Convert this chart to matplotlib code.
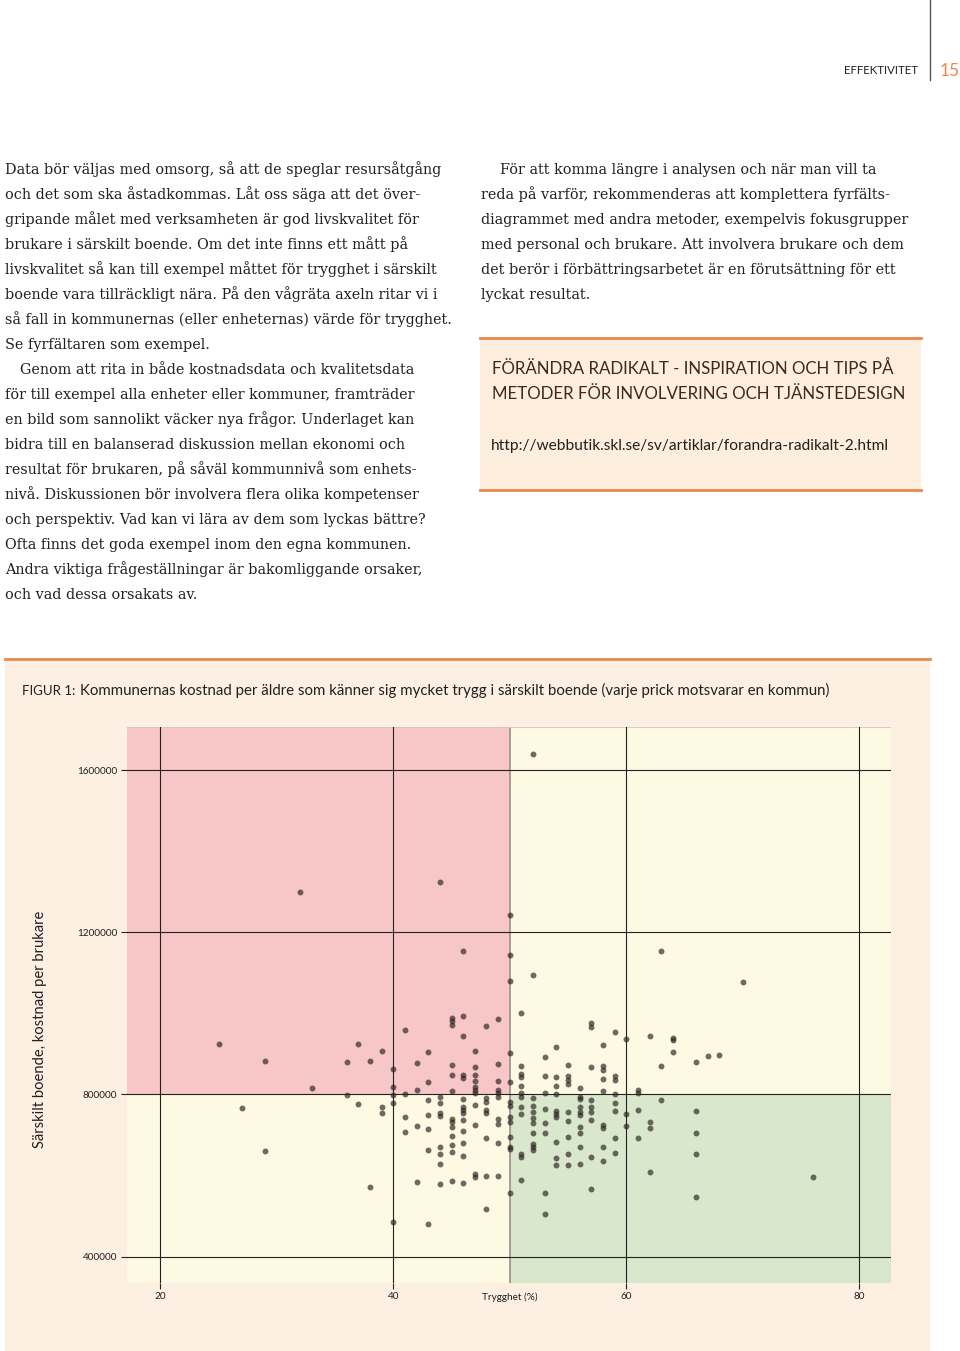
import matplotlib
matplotlib.use('Agg')
import matplotlib.pyplot as plt
from matplotlib.patches import Rectangle
from matplotlib.lines import Line2D

W, H = 960, 1351

# page texts
left_lines = [
    "Data bör väljas med omsorg, så att de speglar resursåtgång",
    "och det som ska åstadkommas. Låt oss säga att det över-",
    "gripande målet med verksamheten är god livskvalitet för",
    "brukare i särskilt boende. Om det inte finns ett mått på",
    "livskvalitet så kan till exempel måttet för trygghet i särskilt",
    "boende vara tillräckligt nära. På den vågräta axeln ritar vi i",
    "så fall in kommunernas (eller enheternas) värde för trygghet.",
    "Se fyrfältaren som exempel.",
    "Genom att rita in både kostnadsdata och kvalitetsdata",
    "för till exempel alla enheter eller kommuner, framträder",
    "en bild som sannolikt väcker nya frågor. Underlaget kan",
    "bidra till en balanserad diskussion mellan ekonomi och",
    "resultat för brukaren, på såväl kommunnivå som enhets-",
    "nivå. Diskussionen bör involvera flera olika kompetenser",
    "och perspektiv. Vad kan vi lära av dem som lyckas bättre?",
    "Ofta finns det goda exempel inom den egna kommunen.",
    "Andra viktiga frågeställningar är bakomliggande orsaker,",
    "och vad dessa orsakats av.",
]
right_lines = [
    "För att komma längre i analysen och när man vill ta",
    "reda på varför, rekommenderas att komplettera fyrfälts-",
    "diagrammet med andra metoder, exempelvis fokusgrupper",
    "med personal och brukare. Att involvera brukare och dem",
    "det berör i förbättringsarbetet är en förutsättning för ett",
    "lyckat resultat.",
]
box_title = ["FÖRÄNDRA RADIKALT - INSPIRATION OCH TIPS PÅ",
             "METODER FÖR INVOLVERING OCH TJÄNSTEDESIGN"]
box_url = "http://webbutik.skl.se/sv/artiklar/forandra-radikalt-2.html"
caption = "Kommunernas kostnad per äldre som känner sig mycket trygg i särskilt boende (varje prick motsvarar en kommun)"

# chart data: trygghet (%) and kostnad per brukare, one dot per kommun
trygghet = (
    [25, 27, 29, 29, 32, 33, 36, 36, 37, 37, 38, 38, 39, 39, 39]
    + [40] * 5 + [41] * 4 + [42] * 4 + [43] * 7 + [44] * 9 + [45] * 13
    + [46] * 14 + [47] * 11 + [48] * 8 + [49] * 10 + [50] * 13 + [51] * 12
    + [52] * 11 + [53] * 8 + [54] * 10 + [55] * 9 + [56] * 10 + [57] * 9
    + [58] * 9 + [59] * 8 + [60] * 3 + [61] * 4 + [62] * 4 + [63] * 3
    + [64] * 3 + [66] * 5 + [67, 68, 70, 76]
)
kostnad = [
    924900, 765500, 882200, 661100, 1298400, 815600, 879700, 797500,
    924100, 777000, 882200, 572300, 907700, 769600, 754800,
    # 40
    861700, 818900, 798400, 777800, 485200,
    # 41
    957800, 800000, 743300, 706300,
    # 42
    878100, 810700, 721900, 584600,
    # 43
    903600, 831200, 786000, 749000, 715300, 661900, 481100,
    # 44
    1324600, 794200, 779400, 754800, 746600, 670900, 652000, 628200, 578900,
    # 45
    987400, 980800, 971000, 871500, 847700, 809000, 738400, 732600, 720300,
    697200, 675100, 657800, 585500,
    # 46
    1154400, 994000, 943900, 847700, 841100, 787700, 767900, 761400, 754800,
    736700, 710400, 679200, 647900, 581300,
    # 47
    907700, 868200, 847700, 832900, 817300, 810700, 802500, 773700, 723600,
    603500, 597000,
    # 48
    968500, 790100, 781900, 761400, 754800, 693100, 598600, 517200,
    # 49
    985000, 874000, 833700, 810700, 804100, 794200, 739200, 726800, 680800,
    599400,
    # 50
    1242400, 1143800, 1080400, 901100, 829600, 781900, 771200, 744900, 732600,
    695600, 670900, 665200, 557500,
    # 51
    1000800, 869900, 850100, 843600, 820600, 802500, 794200, 769600, 750700,
    652000, 646300, 588700,
    # 52
    1638700, 1093700, 790100, 771200, 757300, 740800, 730200, 705500, 677500,
    670900, 662700,
    # 53
    892900, 845200, 802500, 763800, 730200, 703800, 557500, 506500,
    # 54
    915900, 843600, 821400, 800800, 758900, 751500, 744900, 683300, 642200,
    626600,
    # 55
    872300, 845200, 835300, 824700, 757300, 734200, 695600, 652000, 626600,
    # 56
    814800, 794200, 787700, 767900, 757300, 749000, 718600, 705500, 670900,
    629800,
    # 57
    976700, 966900, 866600, 786000, 767900, 757300, 736700, 646300, 565700,
    # 58
    921700, 869900, 860000, 837000, 808200, 724400, 716200, 670900, 636400,
    # 59
    953700, 845200, 835300, 800000, 779400, 758900, 693900, 654500,
    # 60 - 64
    935600, 751500, 722700,
    810700, 802500, 761400, 693100,
    943900, 732600, 716200, 607700,
    1154400, 869900, 786000,
    938100, 934000, 905200,
    # 66 and up
    880600, 758900, 705500, 652900, 546000,
    895400, 897000, 1078000, 597000,
]

xticks = [20, 40, 60, 80]
yticks = [400000, 800000, 1200000, 1600000]
x_split, y_split = 50, 800000

orange = '#e8894a'
ink = '#231f20'

fig = plt.figure(figsize=(W / 100, H / 100), dpi=100)


def ptext(x, y, s, **kw):
    fig.text(x / W, 1 - y / H, s, **kw)


def prect(x0, y0, x1, y1, color):
    fig.add_artist(Rectangle((x0 / W, 1 - y1 / H), (x1 - x0) / W, (y1 - y0) / H,
                             transform=fig.transFigure, color=color, lw=0, zorder=0))


def pline(x0, y0, x1, y1, color, lw):
    fig.add_artist(Line2D([x0 / W, x1 / W], [1 - y0 / H, 1 - y1 / H],
                          transform=fig.transFigure, color=color, lw=lw))


# header
pline(930, 0, 930, 80, '#555555', 1)
ptext(918, 74, "EFFEKTIVITET", ha='right', va='baseline', fontsize=8.3,
      family='Lato', color=ink)
ptext(940, 76, "15", ha='left', va='baseline', fontsize=12.5, family='Lato',
      color=orange)

# body text
body = dict(ha='left', va='baseline', fontsize=10.4, family='DejaVu Serif', color=ink)
for i, line in enumerate(left_lines):
    x = 20 if i == 8 else 5
    ptext(x, 174 + i * 25, line, **body)
for i, line in enumerate(right_lines):
    x = 500 if i == 0 else 481
    ptext(x, 174 + i * 25, line, **body)

# fact box
prect(480, 338, 921, 490, '#fdeedd')
pline(480, 338, 921, 338, orange, 2)
pline(480, 490, 921, 490, orange, 2)
for i, line in enumerate(box_title):
    ptext(492, 374 + i * 25, line, ha='left', va='baseline', fontsize=12.2,
          family='Lato', color='#3b2a1e')
ptext(491, 450, box_url, ha='left', va='baseline', fontsize=11.2, family='Lato',
      color=ink)

# figure box
prect(5, 659, 930, H, '#fdf0e3')
pline(5, 659, 930, 659, orange, 2)
ptext(22, 695, "FIGUR 1:", ha='left', va='baseline', fontsize=9.5,
      family='Lato', color=ink)
ptext(80, 695, caption, ha='left', va='baseline', fontsize=10.8,
      family='Lato', color=ink)

# scatter chart
ax_l, ax_r, ax_t, ax_b = 127, 890.7, 727.3, 1282.7
ax = fig.add_axes([ax_l / W, 1 - ax_b / H, (ax_r - ax_l) / W, (ax_b - ax_t) / H])
x0, x1 = 17.14, 82.7
y0, y1 = 335900, 1705300
ax.set_xlim(x0, x1)
ax.set_ylim(y0, y1)
ax.set_facecolor('none')

ax.fill_between([x0, x_split], y_split, y1, color='#f6c7c6', lw=0, zorder=0)
ax.fill_between([x_split, x1], y_split, y1, color='#fdf9e3', lw=0, zorder=0)
ax.fill_between([x0, x_split], y0, y_split, color='#fdf9e3', lw=0, zorder=0)
ax.fill_between([x_split, x1], y0, y_split, color='#d9e8cd', lw=0, zorder=0)
ax.axvline(x_split, color='#a09590', lw=1.3, zorder=1)
ax.axhline(y1, color='#cfc6c0', lw=1.2, zorder=1)

for xv in xticks:
    ax.axvline(xv, color='#222222', lw=0.8, zorder=2)
for yv in yticks:
    ax.axhline(yv, color='#222222', lw=0.8, zorder=2)

ax.scatter(trygghet, kostnad, s=18, color='#2e2424', alpha=0.68, lw=0, zorder=3)

for sp in ax.spines.values():
    sp.set_visible(False)
ax.set_xticks(xticks)
ax.set_xticklabels([str(v) for v in xticks])
ax.set_yticks(yticks)
ax.set_yticklabels([str(v) for v in yticks])
ax.tick_params(direction='out', length=4, width=0.8, color='#222222',
               labelsize=7.2, pad=3, labelcolor=ink)
for lab in ax.get_xticklabels() + ax.get_yticklabels():
    lab.set_family('Lato')

ax.text(x_split, -0.027, "Trygghet (%)", transform=ax.get_xaxis_transform(),
        ha='center', va='center', fontsize=7.2, family='Lato', color=ink)
ptext(40, 1029, "Särskilt boende, kostnad per brukare", rotation=90,
      ha='center', va='center', fontsize=10.6, family='Lato', color=ink)

fig.savefig('out.png', dpi=100)
